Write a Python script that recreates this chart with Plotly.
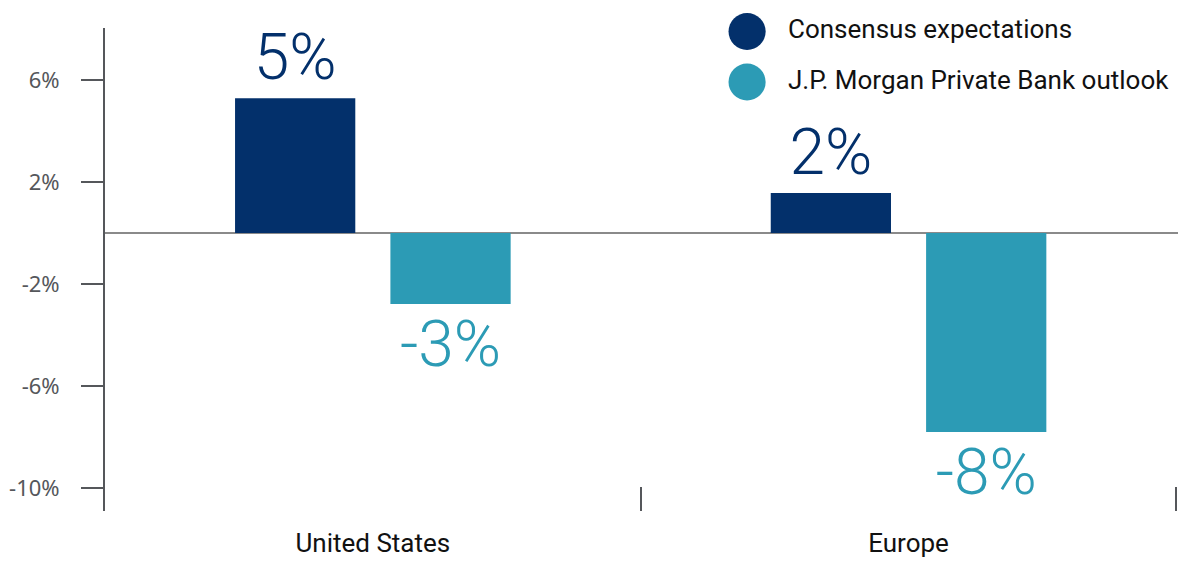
import plotly.graph_objects as go

# Data
regions = ["United States", "Europe"]
consensus = [5.29, 1.57]
jpm_outlook = [-2.78, -7.8]
series_names = ["Consensus expectations", "J.P. Morgan Private Bank outlook"]
y_ticks = [-10, -6, -2, 2, 6]
y_tick_labels = [f"{v}%" for v in y_ticks]

NAVY = "#03306b"
TEAL = "#2c9bb5"
AXIS_GREY = "#55575b"

fig = go.Figure()

for name, values, color in zip(series_names, [consensus, jpm_outlook], [NAVY, TEAL]):
    fig.add_trace(
        go.Bar(
            x=regions,
            y=values,
            name=name,
            marker={"color": color, "line": {"width": 0}},
            texttemplate="%{y:.0f}%",
            textposition="outside",
            textfont={"family": "Roboto", "size": 64, "color": color, "weight": 300},
            cliponaxis=False,
            showlegend=False,
        )
    )

# Legend drawn by hand so the dots can be large circles
legend_items = [(series_names[0], NAVY, 0.9928), (series_names[1], TEAL, 0.8882)]
for text, color, ypos in legend_items:
    fig.add_shape(
        type="circle",
        xref="paper",
        yref="paper",
        x0=0.5984 - 0.0173,
        x1=0.5984 + 0.0173,
        y0=ypos - 0.0383,
        y1=ypos + 0.0383,
        fillcolor=color,
        line={"width": 0},
    )
    fig.add_annotation(
        xref="paper",
        yref="paper",
        x=0.6345,
        y=ypos + 0.005,
        text=text,
        showarrow=False,
        xanchor="left",
        yanchor="middle",
        font={"family": "Liberation Sans Narrow, Roboto", "size": 26, "color": "#111111"},
    )

# the page body adds an 8px margin, so the figure is sized to fit inside it
fig.update_layout(
    width=1178,
    height=553,
    margin={"l": 97, "r": 8, "t": 20, "b": 50},
    paper_bgcolor="white",
    plot_bgcolor="white",
    barmode="group",
    bargap=0.42,
    bargroupgap=0.226,
    showlegend=False,
    font={"family": "Roboto"},
)

fig.update_xaxes(
    type="category",
    range=[-0.5, 1.503],
    automargin=False,
    showline=False,
    showgrid=False,
    tickson="boundaries",
    ticks="inside",
    ticklen=24,
    tickwidth=2,
    tickcolor=AXIS_GREY,
    ticklabelstandoff=14,
    tickfont={"family": "Roboto", "size": 26, "color": "#111111"},
)

fig.update_yaxes(
    range=[-10.9, 8.04],
    automargin=False,
    tickvals=y_ticks,
    ticktext=y_tick_labels,
    showgrid=False,
    showline=True,
    linecolor=AXIS_GREY,
    linewidth=2,
    ticks="outside",
    ticklen=22,
    tickwidth=2,
    tickcolor=AXIS_GREY,
    ticklabelstandoff=17,
    zeroline=True,
    zerolinecolor="#8a8a8a",
    zerolinewidth=2,
    tickfont={"family": "Noto Sans", "size": 22, "color": AXIS_GREY},
)

fig.write_html("out.html")
